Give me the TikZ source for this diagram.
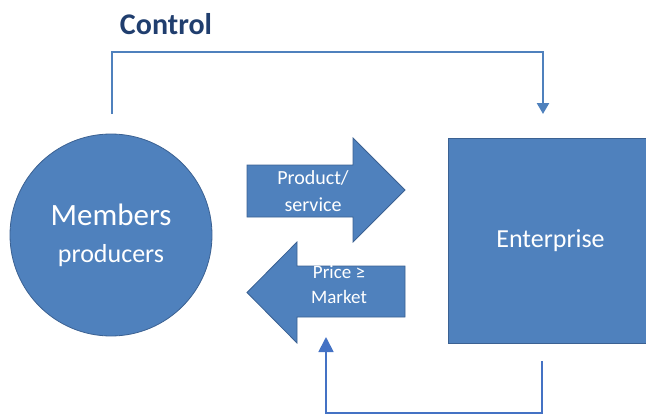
\documentclass[tikz,border=0pt]{standalone}
\usepackage{fontspec}
\setmainfont{Carlito}
\usetikzlibrary{arrows.meta}
\definecolor{shapeblue}{HTML}{4F81BD}
\definecolor{shapeedge}{HTML}{3B6192}
\definecolor{linkblue}{HTML}{4F81BD}
\definecolor{backblue}{HTML}{4472C4}
\definecolor{titleblue}{HTML}{203E6E}

\begin{document}
\begin{tikzpicture}[x=1pt,y=-1pt]
\tikzset{
  shapestyle/.style={draw=shapeedge,fill=shapeblue,line width=0.8pt},
  whitetext/.style={text=white,align=center,inner sep=0pt},
  ctrlline/.style={linkblue,line width=2.5pt,-{Triangle[length=11pt,width=12pt]}},
  backline/.style={backblue,line width=1.8pt,-{Triangle[length=15pt,width=15pt]}}
}
\useasboundingbox (0,0) rectangle (646,415);

\node[shapestyle,whitetext,circle,minimum size=202pt,font=\fontsize{26}{37}\selectfont] (memb) at (111,235)
  {{\fontsize{31}{37}\selectfont Members}\\producers};
\node[shapestyle,whitetext,rectangle,minimum width=205pt,minimum height=205pt] (ent) at (550.5,240.5)
  {\fontsize{26}{31}\selectfont Enterprise};

\node[text=titleblue,font=\bfseries\fontsize{30}{36}\selectfont,inner sep=0pt] (ctrl) at (166,24) {Control};

% exchange arrows
\path[shapestyle] (247,165) -- (353,165) -- (353,138) -- (405,190) -- (353,242) -- (353,217) -- (247,217) -- cycle;
\path[shapestyle] (405,266) -- (297,266) -- (297,242) -- (247,292.5) -- (297,343) -- (297,317) -- (405,317) -- cycle;
\node[whitetext,font=\fontsize{20}{27}\selectfont] (prod) at (313,191) {Product/\\service};
\node[whitetext,font=\fontsize{19}{25}\selectfont] (price) at (339,285) {Price ≥\\Market};

% control and feedback lines
\coordinate (ctrlA) at (112,114);
\coordinate (ctrlB) at (543,114);
\draw[ctrlline] (ctrlA) -- ++(0,-62) -| (ctrlB);

\coordinate (backA) at (542,361);
\coordinate (backB) at (326,337);
\draw[backline] (backA) -- ++(0,52) -| (backB);
\end{tikzpicture}
\end{document}
